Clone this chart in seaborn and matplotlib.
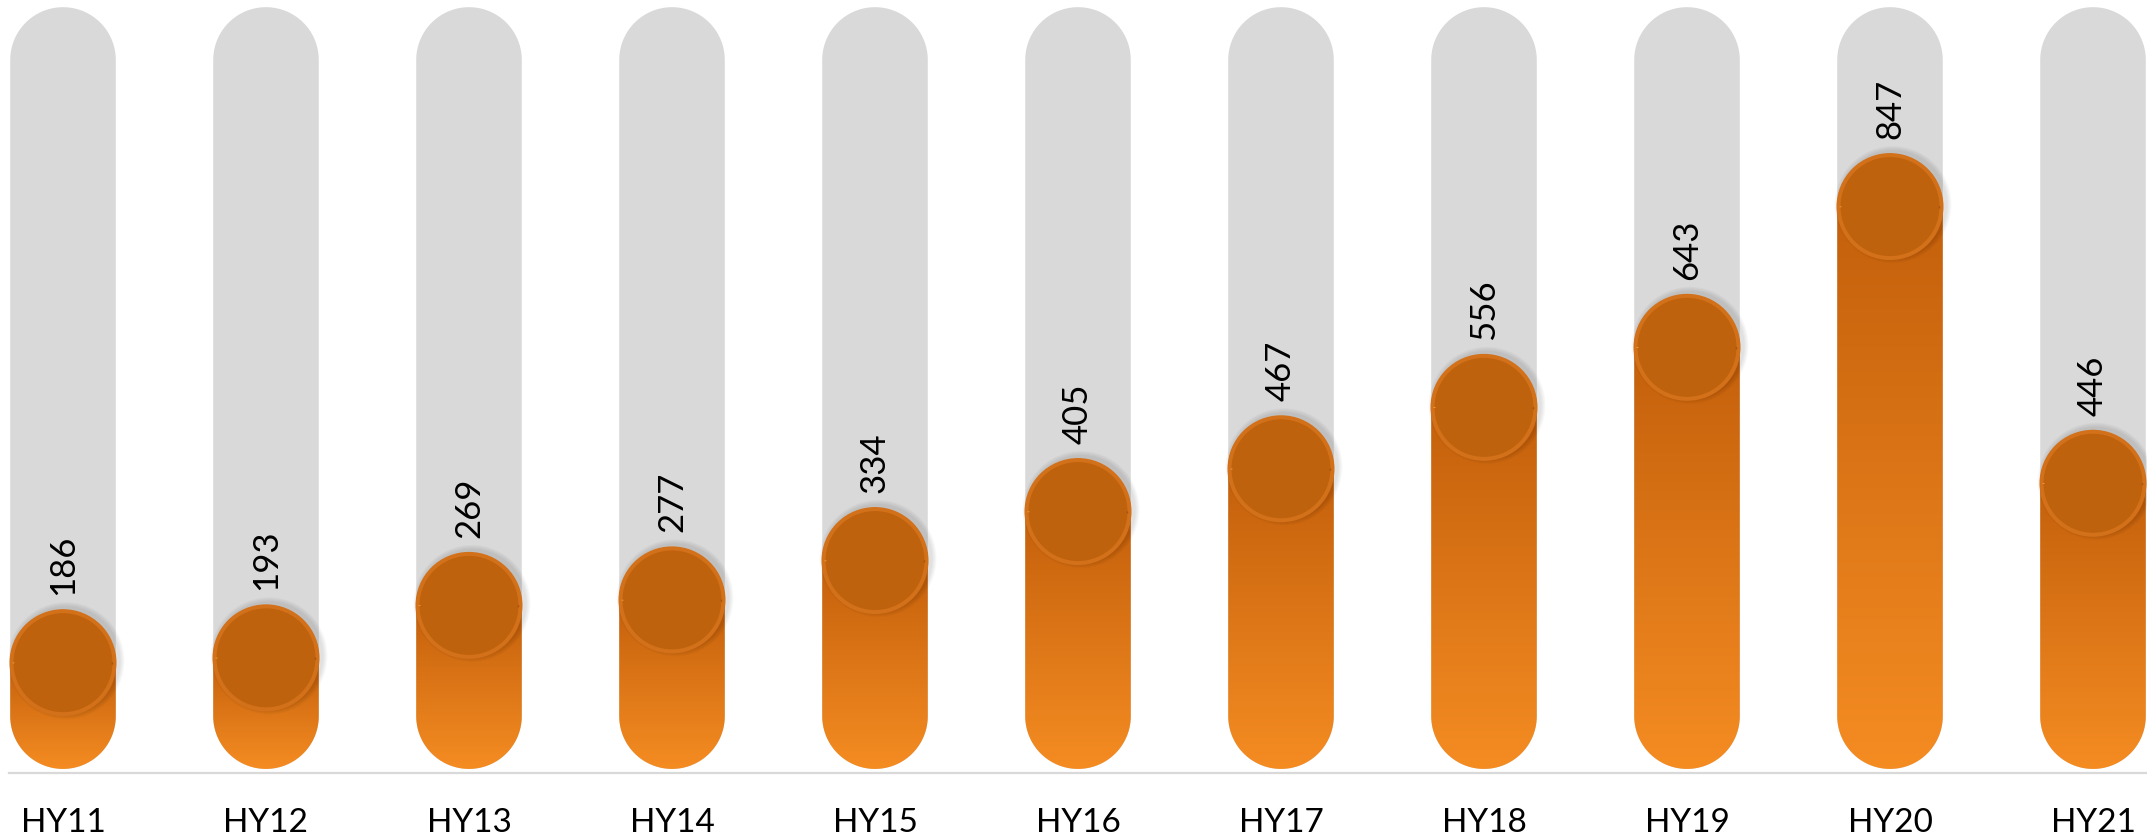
import numpy as np
import pandas as pd
import matplotlib
matplotlib.use("Agg")
import matplotlib.pyplot as plt
from matplotlib.patches import Polygon, Ellipse, Arc
from matplotlib.colors import LinearSegmentedColormap
import seaborn as sns

# ---- data -------------------------------------------------------------
periods = ["HY11", "HY12", "HY13", "HY14", "HY15", "HY16",
           "HY17", "HY18", "HY19", "HY20", "HY21"]
values = [186, 193, 269, 277, 334, 405, 467, 556, 643, 847, 446]
track_top = 1136      # upper end of the grey track
track_floor = 32      # lower end of every rounded bar

# ---- style ------------------------------------------------------------
sns.set_theme(style="white")
plt.rcParams["font.family"] = ["Lato", "DejaVu Sans"]

GREY = "#d9d9d9"
KNOB = "#bf620d"
KNOB_RIM = "#d2711a"
HILITE = "#f7aa46"
DARK_EDGE = "#8a4610"
orange_ramp = LinearSegmentedColormap.from_list(
    "orange_ramp", ["#f58c22", "#c4600c"])

W, H, DPI = 2147, 840, 100
fig = plt.figure(figsize=(W / DPI, H / DPI), dpi=DPI, facecolor="white")
ax = fig.add_axes([9 / W, (H - 773) / H, (W - 9) / W, 773 / H])

df = pd.DataFrame({"period": periods, "value": values})
sns.barplot(data=df, x="period", y="value", ax=ax, width=0.52,
            color="#e07818", saturation=1)

XLIM = (-0.266, 10.266)
YLIM = (26.1, 1146.4)
ax.set_xlim(*XLIM)
ax.set_ylim(*YLIM)

# pixel scale of the data axes, used to keep round shapes round
p0 = ax.transData.transform((0, 0))
p1 = ax.transData.transform((1, 1))
ppx, ppy = p1[0] - p0[0], p1[1] - p0[1]


def pill(x0, w, y0, y1, ry, **kw):
    """Vertical stadium shape with semicircular caps (ry in data units)."""
    rx = w / 2
    xc = x0 + rx
    th = np.linspace(0, np.pi, 90)
    top = np.column_stack([xc + rx * np.cos(th), (y1 - ry) + ry * np.sin(th)])
    bot = np.column_stack([xc - rx * np.cos(th), (y0 + ry) - ry * np.sin(th)])
    return Polygon(np.vstack([top, bot]), closed=True, **kw)


bars = list(ax.patches)
for bar, v in zip(bars, values):
    bar.set_visible(False)
    x0, w = bar.get_x(), bar.get_width()
    xc = x0 + w / 2
    ry = (w / 2) * ppx / ppy

    # grey track
    ax.add_patch(pill(x0, w, track_floor, track_top, ry,
                      facecolor=GREY, edgecolor="none", zorder=1))

    # orange bar with a vertical gradient, clipped to a pill shape
    top = v + ry
    shape = pill(x0, w, track_floor, top, ry, facecolor="none",
                 edgecolor="none", zorder=2)
    ax.add_patch(shape)
    ys = np.linspace(track_floor, top, 300)
    t = np.clip((ys - track_floor) / (v - track_floor), 0, 1)
    img = ax.imshow(t[:, None], cmap=orange_ramp, vmin=0, vmax=1,
                    origin="lower", aspect="auto", interpolation="bilinear",
                    extent=(x0, x0 + w, track_floor, top), zorder=2)
    img.set_clip_path(shape)

    # knob: soft shadow, rim, face and bevel highlights
    r_px = 53.5
    kx, ky = r_px / ppx, r_px / ppy
    for k in range(5, 0, -1):
        ax.add_patch(Ellipse((xc + 3 / ppx, v + 2 / ppy),
                             2 * (kx + k / ppx), 2 * (ky + k / ppy),
                             facecolor="black", alpha=0.025,
                             edgecolor="none", zorder=3))
    ax.add_patch(Ellipse((xc, v), 2 * kx, 2 * ky, facecolor=KNOB_RIM,
                         edgecolor="none", zorder=4))
    ax.add_patch(Ellipse((xc, v), 2 * (kx - 4 / ppx), 2 * (ky - 4 / ppy),
                         facecolor=KNOB, edgecolor="none", zorder=4))
    ax.add_patch(Arc((xc, v), 2 * (kx - 4 / ppx), 2 * (ky - 4 / ppy),
                     theta1=150, theta2=255, color=HILITE, lw=1.4,
                     zorder=5))
    ax.add_patch(Arc((xc, v), 2 * (kx - 4 / ppx), 2 * (ky - 4 / ppy),
                     theta1=-85, theta2=55, color=DARK_EDGE, lw=1.1,
                     alpha=0.55, zorder=5))

    # value label above the knob
    ax.annotate(f"{v}", (xc, v), xytext=(0, (r_px + 14) * 72 / DPI),
                textcoords="offset points", rotation=90, ha="center",
                va="bottom", fontsize=25, color="black", zorder=6)

ax.set_xlim(*XLIM)
ax.set_ylim(*YLIM)
ax.set_xlabel("")
ax.set_ylabel("")
ax.set_yticks([])
ax.tick_params(axis="x", length=0, pad=25, labelsize=24, labelcolor="black")
for side in ("top", "left", "right"):
    ax.spines[side].set_visible(False)
ax.spines["bottom"].set_color(GREY)
ax.spines["bottom"].set_linewidth(1.6)
ax.set_facecolor("white")

fig.savefig("out.png", dpi=DPI, facecolor="white")
